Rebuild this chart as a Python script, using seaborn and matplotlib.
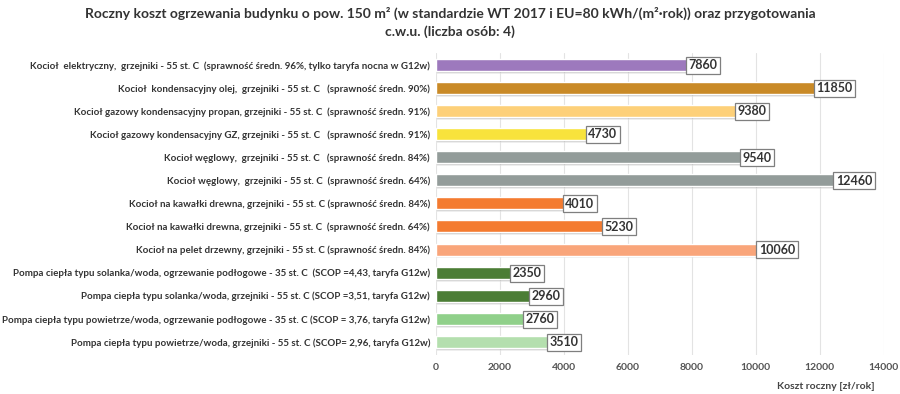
import matplotlib
matplotlib.use("Agg")
import matplotlib.pyplot as plt
import seaborn as sns
import pandas as pd

categories = [
    "Kocioł  elektryczny,  grzejniki - 55 st. C  (sprawność średn. 96%, tylko taryfa nocna w G12w)",
    "Kocioł  kondensacyjny olej,  grzejniki - 55 st. C   (sprawność średn. 90%)",
    "Kocioł gazowy kondensacyjny propan, grzejniki - 55 st. C  (sprawność średn. 91%)",
    "Kocioł gazowy kondensacyjny GZ, grzejniki - 55 st. C   (sprawność średn. 91%)",
    "Kocioł węglowy,  grzejniki - 55 st. C   (sprawność średn. 84%)",
    "Kocioł węglowy,  grzejniki - 55 st. C  (sprawność średn. 64%)",
    "Kocioł na kawałki drewna, grzejniki - 55 st. C (sprawność średn. 84%)",
    "Kocioł na kawałki drewna, grzejniki - 55 st. C  (sprawność średn. 64%)",
    "Kocioł na pelet drzewny, grzejniki - 55 st. C (sprawność średn. 84%)",
    "Pompa ciepła typu solanka/woda, ogrzewanie podłogowe - 35 st. C  (SCOP =4,43, taryfa G12w)",
    "Pompa ciepła typu solanka/woda, grzejniki - 55 st. C (SCOP =3,51, taryfa G12w)",
    "Pompa ciepła typu powietrze/woda, ogrzewanie podłogowe - 35 st. C (SCOP = 3,76, taryfa G12w)",
    "Pompa ciepła typu powietrze/woda, grzejniki - 55 st. C (SCOP= 2,96, taryfa G12w)",
]
values = [7860, 11850, 9380, 4730, 9540, 12460, 4010, 5230, 10060, 2350, 2960, 2760, 3510]
colors = ["#9d79bd", "#c98a27", "#fdd079", "#f8e33c", "#939c9a", "#939c9a", "#f47b30",
          "#f47b30", "#f9a57a", "#4b7d35", "#4b7d35", "#90d08a", "#b4dfae"]
xticks = [0, 2000, 4000, 6000, 8000, 10000, 12000, 14000]

sns.set_theme(style="white")
plt.rcParams["font.family"] = ["Lato", "DejaVu Sans"]

df = pd.DataFrame({"cat": categories, "val": values})

fig = plt.figure(figsize=(9, 3.94), dpi=100)
ax = fig.add_axes([0.484, 0.10, 0.498, 0.765])

# subtle shadow
sns.barplot(data=df, x="val", y="cat", hue="cat", palette=["#6f6f6f"] * len(categories),
            legend=False, ax=ax, width=0.55, alpha=0.35, zorder=2, saturation=1)
for p in ax.patches:
    p.set_y(p.get_y() + 0.07)
sns.barplot(data=df, x="val", y="cat", hue="cat", palette=colors, legend=False, ax=ax,
            width=0.52, zorder=3, saturation=1)

ax.set_xlim(0, 14000)
ax.set_ylim(len(categories) - 0.45, -0.5)
ax.set_xticks(xticks)
ax.set_xticklabels([str(t) for t in xticks], fontsize=7.5, color="#555555", fontweight="bold")
ax.tick_params(axis="x", length=0, pad=6)
ax.tick_params(axis="y", length=0, pad=4)
ax.set_yticks(range(len(categories)))
ax.set_yticklabels(categories, fontsize=7, color="#333333", fontweight="bold")
ax.grid(axis="x", color="#e3e3e3", linewidth=0.8, zorder=0)
ax.set_axisbelow(True)
for s in ax.spines.values():
    s.set_visible(False)
ax.set_ylabel("")
ax.set_xlabel("Koszt roczny [zł/rok]", fontsize=7.5, color="#444444", fontweight="bold")
ax.xaxis.set_label_coords(0.87, -0.09)

for i, v in enumerate(values):
    ax.text(v + 40, i + 0.02, str(v), va="center", ha="left", fontsize=9, fontweight="bold",
            color="#333333", zorder=5,
            bbox=dict(boxstyle="square,pad=0.2", fc="white", ec="#7f7f7f", lw=0.9))

fig.text(0.5, 0.965, "Roczny koszt ogrzewania budynku o pow. 150 m² (w standardzie WT 2017 i EU=80 kWh/(m²·rok)) oraz przygotowania",
         ha="center", va="center", fontsize=10, fontweight="bold", color="#333333")
fig.text(0.5, 0.92, "c.w.u. (liczba osób: 4)", ha="center", va="center", fontsize=10,
         fontweight="bold", color="#333333")

fig.savefig("out.png", dpi=100, facecolor="white")
